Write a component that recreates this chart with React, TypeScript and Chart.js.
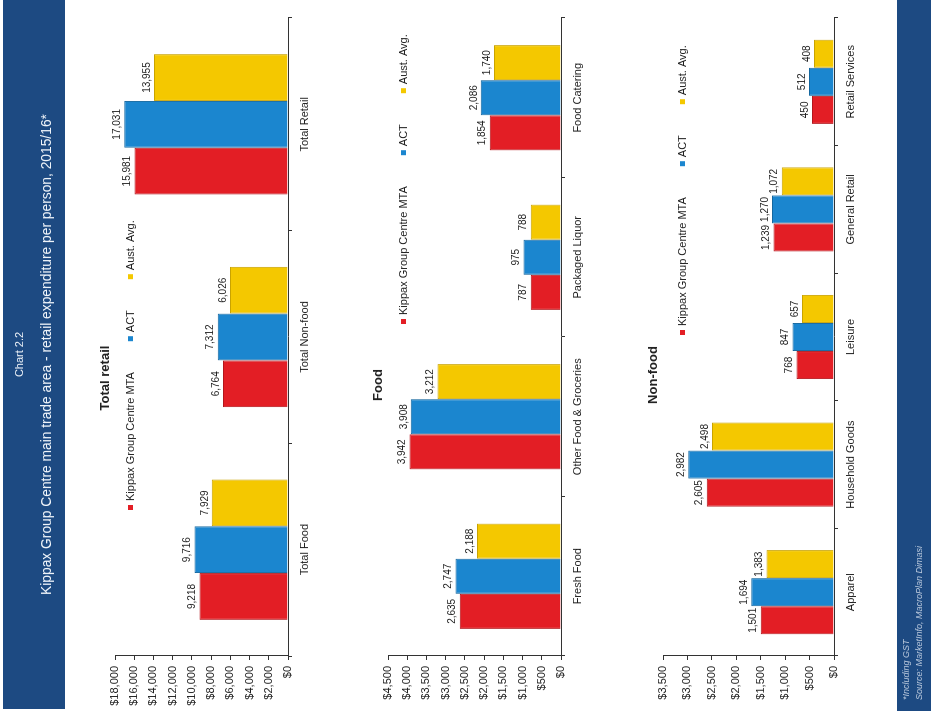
import React, { useEffect, useRef } from "react";
import { Chart, registerables } from "chart.js";

Chart.register(...registerables);

// ---------- DATA ----------
const seriesNames = ["Kippax Group Centre MTA", "ACT", "Aust. Avg."];

const totalCategories = ["Total Food", "Total Non-food", "Total Retail"];
const totalKippax = [9218, 6764, 15981];
const totalACT = [9716, 7312, 17031];
const totalAust = [7929, 6026, 13955];

const foodCategories = ["Fresh Food", "Other Food & Groceries", "Packaged Liquor", "Food Catering"];
const foodKippax = [2635, 3942, 787, 1854];
const foodACT = [2747, 3908, 975, 2086];
const foodAust = [2188, 3212, 788, 1740];

const nonFoodCategories = ["Apparel", "Household Goods", "Leisure", "General Retail", "Retail Services"];
const nonFoodKippax = [1501, 2605, 768, 1239, 450];
const nonFoodACT = [1694, 2982, 847, 1270, 512];
const nonFoodAust = [1383, 2498, 657, 1072, 408];

const totalTicks = { max: 18000, step: 2000 };
const foodTicks = { max: 4500, step: 500 };
const nonFoodTicks = { max: 3500, step: 500 };

// ---------- STYLE ----------
const FONT = "'Liberation Sans', Arial, Helvetica, sans-serif";
const COLORS = ["#e31e25", "#1b86cf", "#f4c800"];
const BORDERS = ["#b3161c", "#14679f", "#c9a300"];
const TEXT = "#222222";

const fmt = (v: number) => v.toLocaleString("en-US");

const valueLabelPlugin = {
  id: "valueLabels",
  afterDatasetsDraw(chart: any) {
    const ctx = chart.ctx;
    ctx.save();
    ctx.font = `10px ${FONT}`;
    ctx.fillStyle = TEXT;
    ctx.textAlign = "center";
    ctx.textBaseline = "bottom";
    chart.data.datasets.forEach((ds: any, i: number) => {
      const meta = chart.getDatasetMeta(i);
      meta.data.forEach((el: any, j: number) => {
        ctx.fillText(fmt(ds.data[j]), el.x, el.y - 2);
      });
    });
    ctx.restore();
  },
};

const headerPlugin = {
  id: "header",
  afterDraw(chart: any, _args: any, opts: any) {
    const ctx = chart.ctx;
    ctx.save();
    ctx.fillStyle = TEXT;
    ctx.textBaseline = "middle";
    ctx.textAlign = "center";
    ctx.font = `bold 13px ${FONT}`;
    ctx.fillText(opts.title, opts.titleX, opts.titleY);
    ctx.font = `11px ${FONT}`;
    ctx.textAlign = "left";
    let x = opts.legendX;
    const y = opts.legendY;
    chart.data.datasets.forEach((ds: any) => {
      ctx.fillStyle = ds.backgroundColor;
      ctx.fillRect(x - 2, y - 2, 5, 5);
      ctx.fillStyle = TEXT;
      ctx.fillText(ds.label, x + 7, y + 1);
      x += 7 + ctx.measureText(ds.label).width + 33;
    });
    ctx.restore();
  },
};

type PanelCfg = {
  top: number;
  height: number;
  padTop: number;
  xHeight: number;
  categories: string[];
  series: number[][];
  ticks: { max: number; step: number };
  title: string;
  titleX: number;
  titleY: number;
  legendX: number;
  legendY: number;
};

function BarPanel({ cfg }: { cfg: PanelCfg }) {
  const ref = useRef<HTMLCanvasElement | null>(null);
  useEffect(() => {
    if (!ref.current) return;
    const chart = new Chart(ref.current, {
      type: "bar",
      data: {
        labels: cfg.categories,
        datasets: cfg.series.map((d, i) => ({
          label: seriesNames[i],
          data: d,
          backgroundColor: COLORS[i],
          borderColor: BORDERS[i],
          borderWidth: 1,
          barPercentage: 1,
          categoryPercentage: 0.66,
        })),
      },
      options: {
        responsive: false,
        animation: false,
        maintainAspectRatio: false,
        layout: { padding: { top: cfg.padTop, right: 18, left: 0, bottom: 0 } },
        plugins: {
          legend: { display: false },
          title: { display: false },
          tooltip: { enabled: false },
          header: {
            title: cfg.title,
            titleX: cfg.titleX,
            titleY: cfg.titleY,
            legendX: cfg.legendX,
            legendY: cfg.legendY,
          },
        } as any,
        scales: {
          x: {
            grid: { display: true, drawOnChartArea: false, tickLength: 4, color: "#333", offset: true },
            border: { color: "#333", width: 1 },
            ticks: { color: TEXT, font: { size: 11, family: FONT }, padding: 6, maxRotation: 0 },
            afterFit: (s: any) => {
              s.height = cfg.xHeight;
            },
          },
          y: {
            min: 0,
            max: cfg.ticks.max,
            grid: { display: true, drawOnChartArea: false, tickLength: 4, color: "#333" },
            border: { color: "#333", width: 1 },
            ticks: {
              stepSize: cfg.ticks.step,
              color: TEXT,
              font: { size: 11, family: FONT },
              padding: 6,
              callback: (v: any) => "$" + fmt(Number(v)),
            },
            afterFit: (s: any) => {
              s.width = 60;
            },
          },
        },
      },
      plugins: [valueLabelPlugin, headerPlugin],
    } as any);
    return () => chart.destroy();
  }, [cfg]);
  return (
    <canvas
      ref={ref}
      width={716}
      height={cfg.height}
      style={{ position: "absolute", left: 0, top: cfg.top, width: 716, height: cfg.height }}
    />
  );
}

const panels: PanelCfg[] = [
  {
    top: 88, height: 242, padTop: 27, xHeight: 42,
    categories: totalCategories, series: [totalKippax, totalACT, totalAust], ticks: totalTicks,
    title: "Total retail", titleX: 338, titleY: 17, legendX: 208, legendY: 42,
  },
  {
    top: 362, height: 243, padTop: 26, xHeight: 44,
    categories: foodCategories, series: [foodKippax, foodACT, foodAust], ticks: foodTicks,
    title: "Food", titleX: 331, titleY: 16, legendX: 394, legendY: 41,
  },
  {
    top: 637, height: 243, padTop: 26, xHeight: 46,
    categories: nonFoodCategories, series: [nonFoodKippax, nonFoodACT, nonFoodAust], ticks: nonFoodTicks,
    title: "Non-food", titleX: 341, titleY: 16, legendX: 383, legendY: 45,
  },
];

export default function App() {
  useEffect(() => {
    document.body.style.margin = "0";
    document.body.style.overflow = "hidden";
    document.body.style.background = "#ffffff";
  }, []);
  return (
    <div
      style={{
        position: "fixed",
        left: 0,
        top: 0,
        width: 716,
        height: 931,
        background: "#ffffff",
        transformOrigin: "0 0",
        transform: "translate(0px, 716px) rotate(-90deg)",
        fontFamily: FONT,
      }}
    >
      <div
        style={{
          position: "absolute",
          left: 7,
          top: 3,
          width: 709,
          height: 62,
          background: "#1d4a82",
          color: "#eef3f9",
          textAlign: "center",
        }}
      >
        <div style={{ position: "absolute", left: 0, right: 0, top: 10, fontSize: 11 }}>Chart 2.2</div>
        <div style={{ position: "absolute", left: 0, right: 0, top: 36, fontSize: 13.8 }}>
          Kippax Group Centre main trade area - retail expenditure per person, 2015/16*
        </div>
      </div>
      {panels.map((p, i) => (
        <BarPanel key={i} cfg={p} />
      ))}
      <div
        style={{
          position: "absolute",
          left: 5,
          top: 897,
          width: 711,
          height: 34,
          background: "#1d4a82",
          color: "#b9c8dc",
          fontStyle: "italic",
          fontSize: 9,
          lineHeight: "12px",
        }}
      >
        <div style={{ position: "absolute", left: 11, top: 3 }}>*Including GST</div>
        <div style={{ position: "absolute", left: 11, top: 16 }}>Source: MarketInfo, MacroPlan Dimasi</div>
      </div>
    </div>
  );
}
